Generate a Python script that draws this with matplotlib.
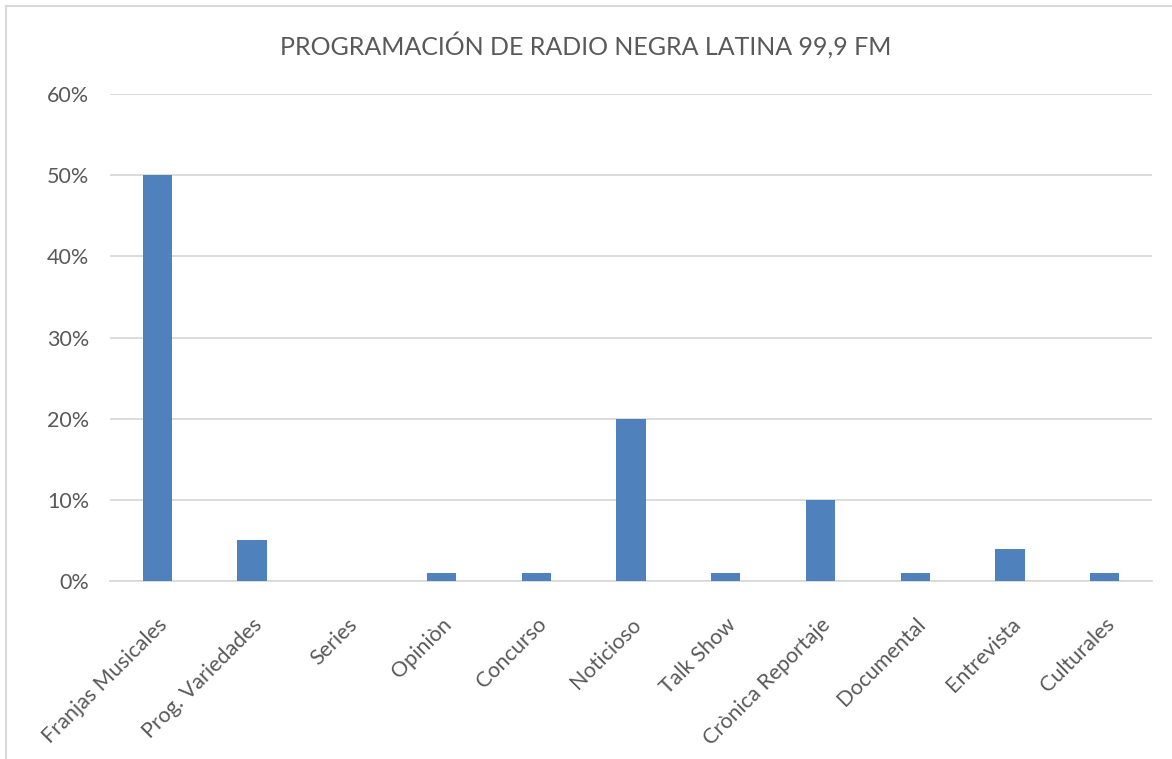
import matplotlib.pyplot as plt
from matplotlib.lines import Line2D
from matplotlib.ticker import PercentFormatter

categorias = ['Franjas Musicales', 'Prog. Variedades', 'Series', 'Opiniòn', 'Concurso',
              'Noticioso', 'Talk Show', 'Crònica Reportaje', 'Documental', 'Entrevista', 'Culturales']
valores = [0.50, 0.05, 0.0, 0.01, 0.01, 0.20, 0.01, 0.10, 0.01, 0.04, 0.01]
y_ticks = [0, 0.1, 0.2, 0.3, 0.4, 0.5, 0.6]

plt.rcParams['font.family'] = ['Lato', 'DejaVu Sans']
gris = '#595959'

fig = plt.figure(figsize=(11.72, 7.59), dpi=100)
ax = fig.add_axes([0.0939, 0.2345, 0.8891, 0.6416])

x = range(len(categorias))
ax.bar(x, valores, width=0.31, color='#4F81BD', zorder=3)
ax.set_xlim(-0.5, len(categorias) - 0.5)
ax.set_ylim(0, 0.6)
ax.set_yticks(y_ticks)
ax.yaxis.set_major_formatter(PercentFormatter(1.0, decimals=0))
ax.grid(axis='y', color='#D9D9D9', linewidth=1.3, zorder=0)
ax.set_xticks(list(x))
ax.set_xticklabels(categorias, rotation=45, ha='right', rotation_mode='anchor')

for s in ['top', 'right', 'left']:
    ax.spines[s].set_visible(False)
ax.spines['bottom'].set_color('#D9D9D9')
ax.spines['bottom'].set_linewidth(1.3)
ax.tick_params(axis='both', length=0, labelsize=15.5, colors=gris)
ax.tick_params(axis='y', pad=15)
ax.tick_params(axis='x', pad=24)

fig.text(0.5, 0.941, 'PROGRAMACIÓN DE RADIO NEGRA LATINA 99,9 FM',
         ha='center', va='center', fontsize=18, color=gris)

# borde del gráfico
fig.add_artist(Line2D([6 / 1172, 1], [1 - 6 / 759, 1 - 6 / 759], color='#D9D9D9', lw=1.5))
fig.add_artist(Line2D([6 / 1172, 6 / 1172], [0, 1 - 6 / 759], color='#D9D9D9', lw=1.5))

fig.savefig('out.png', dpi=100)
